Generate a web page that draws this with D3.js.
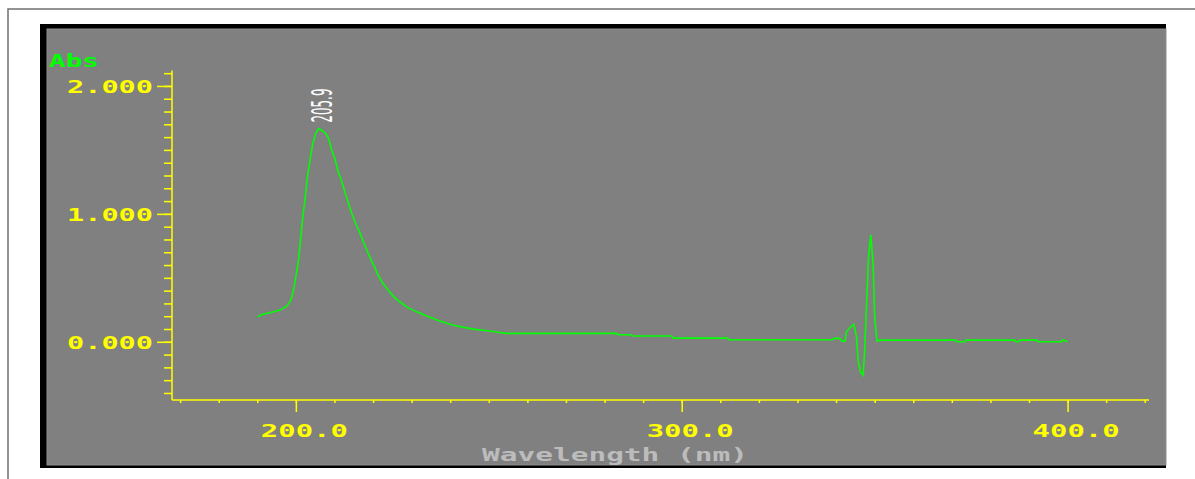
<!DOCTYPE html>
<html>
<head>
<meta charset="utf-8">
<script src="https://cdn.jsdelivr.net/npm/d3@7"></script>
<style>
  body { margin: 0; background: #fff; }
  svg { display: block; }
</style>
</head>
<body>
<div id="vis"></div>
<script>
// ************************** DATA **************************//

// wavelength (nm)
var wavelength = [190, 191.2, 193.3, 195.9, 197.7, 198.7, 199.4, 200.0, 200.7, 201.2,
  201.8, 202.4, 203.0, 203.8, 204.4, 205.2, 205.9, 206.7, 207.7, 208.5,
  209.3, 210.1, 211.0, 211.8, 212.7, 213.5, 214.5, 215.5, 216.5, 217.4,
  218.5, 219.5, 220.5, 221.3, 222.6, 223.9, 225.2, 226.9, 228.7, 231.3,
  233.9, 237.3, 240.8, 245.9, 250.3, 252.8, 254.6, 283.1, 283.5, 286.8,
  287.2, 297.4, 297.8, 311.9, 312.3, 339.1, 339.4, 340.9, 341.5, 342.3,
  342.7, 343.8, 344.6, 345.3, 345.7, 346.3, 347.0, 347.4, 347.9, 348.4,
  349.0, 349.6, 350.0, 350.6, 351.3, 371.0, 371.3, 373.3, 373.6, 386.3,
  386.6, 387.3, 387.6, 392.0, 392.3, 398.4, 398.7, 399.3, 400.0]

// absorbance
var absorbance = [0.195, 0.214, 0.227, 0.248, 0.281, 0.326, 0.404, 0.508, 0.638, 0.795,
  0.977, 1.120, 1.289, 1.445, 1.550, 1.633, 1.667, 1.654, 1.628, 1.589,
  1.498, 1.433, 1.328, 1.263, 1.172, 1.094, 1.003, 0.925, 0.859, 0.790,
  0.710, 0.640, 0.580, 0.521, 0.456, 0.404, 0.357, 0.313, 0.273, 0.234,
  0.201, 0.162, 0.130, 0.099, 0.084, 0.073, 0.066, 0.066, 0.055, 0.055,
  0.045, 0.045, 0.029, 0.029, 0.016, 0.016, 0.027, 0.027, 0.005, 0.005,
  0.078, 0.117, 0.136, 0.039, -0.143, -0.234, -0.260, -0.078, 0.287, 0.651,
  0.834, 0.612, 0.195, 0.005, 0.013, 0.013, 0.000, 0.000, 0.013, 0.013,
  0.000, 0.000, 0.013, 0.013, 0.000, 0.000, 0.016, 0.010, 0.000]

var xMajorTicks = [200, 300, 400]
var yMajorTicks = [0, 1, 2]
var peakLabels = [205.9]
var xTitle = "Wavelength (nm)"
var yTitle = "Abs"

var data = wavelength.map((w, i) => ({w: w, a: absorbance[i]}))

// ************************** SCALES **************************//

var width = 1195, height = 479

var x = d3.scaleLinear().domain([167.9, 421.1]).range([172, 1149])
var y = d3.scaleLinear().domain([-0.455, 2.12]).range([400, 70.6])

var xMinor = d3.range(170, 421, 10)
var yMinor = d3.range(-4, 22).map(d => d / 10)

var pixFont = "'DejaVu Sans Mono', monospace"

var svg = d3.select("#vis").append("svg")
  .attr("width", width)
  .attr("height", height)

// outer frame
svg.append("rect")
  .attr("x", 8).attr("y", 9)
  .attr("width", 1200).attr("height", 500)
  .attr("fill", "none")
  .attr("stroke", "#707070")
  .attr("stroke-width", 1.5)

// instrument panel
svg.append("rect")
  .attr("x", 40).attr("y", 24)
  .attr("width", 1126).attr("height", 444)
  .attr("fill", "#000")
svg.append("rect")
  .attr("x", 47).attr("y", 29)
  .attr("width", 1119).attr("height", 436)
  .attr("fill", "#808080")
  .attr("stroke", "#8e8e8e")
  .attr("stroke-width", 1)

// ************************** AXES **************************//

var yellow = "#ffff00"

function styleAxis(g) {
  g.select(".domain").remove()
  g.selectAll(".tick line").attr("stroke", yellow).attr("stroke-width", 1.5)
}

svg.append("g")
  .attr("transform", "translate(172,0)")
  .call(d3.axisLeft(y).tickValues(yMinor).tickSize(8).tickFormat(""))
  .call(styleAxis)

svg.append("g")
  .attr("transform", "translate(172,0)")
  .call(d3.axisLeft(y).tickValues(yMajorTicks).tickSize(15).tickPadding(4).tickFormat(d3.format(".3f")))
  .call(styleAxis)
  .call(g => g.selectAll(".tick text")
    .attr("fill", yellow)
    .attr("font-family", pixFont)
    .attr("font-weight", "bold")
    .attr("font-size", 18)
    .attr("dy", "0.36em")
    .attr("textLength", 86)
    .attr("lengthAdjust", "spacingAndGlyphs"))

svg.append("g")
  .attr("transform", "translate(0,400)")
  .call(d3.axisBottom(x).tickValues(xMinor).tickSize(3).tickFormat(""))
  .call(styleAxis)

svg.append("g")
  .attr("transform", "translate(0,400)")
  .call(d3.axisBottom(x).tickValues(xMajorTicks).tickSize(12).tickFormat(d3.format(".1f")))
  .call(styleAxis)
  .call(g => g.selectAll(".tick text")
    .attr("fill", yellow)
    .attr("font-family", pixFont)
    .attr("font-weight", "bold")
    .attr("font-size", 18)
    .attr("x", 8)
    .attr("y", 37)
    .attr("dy", 0)
    .attr("textLength", 87)
    .attr("lengthAdjust", "spacingAndGlyphs"))

// axis lines
svg.append("line")
  .attr("x1", x.range()[0]).attr("x2", x.range()[0])
  .attr("y1", y.range()[1]).attr("y2", y.range()[0])
  .attr("stroke", yellow).attr("stroke-width", 1.5)
svg.append("line")
  .attr("x1", x.range()[0]).attr("x2", x.range()[1])
  .attr("y1", y.range()[0]).attr("y2", y.range()[0])
  .attr("stroke", yellow).attr("stroke-width", 1.5)

// titles
svg.append("text")
  .attr("x", 49).attr("y", 67)
  .attr("fill", "#00ff00")
  .attr("font-family", pixFont)
  .attr("font-weight", "bold")
  .attr("font-size", 18)
  .attr("textLength", 50)
  .attr("lengthAdjust", "spacingAndGlyphs")
  .text(yTitle)

svg.append("text")
  .attr("x", 482).attr("y", 460.5)
  .attr("fill", "#bcbcbc")
  .attr("font-family", pixFont)
  .attr("font-weight", "bold")
  .attr("font-size", 18)
  .attr("textLength", 266)
  .attr("lengthAdjust", "spacingAndGlyphs")
  .text(xTitle)

// ************************** TRACE **************************//

var line = d3.line()
  .x(d => x(d.w))
  .y(d => y(d.a))

svg.append("path")
  .datum(data)
  .attr("d", line)
  .attr("fill", "none")
  .attr("stroke", "#00ff00")
  .attr("stroke-width", 1.6)
  .attr("stroke-linejoin", "miter")

// peak label
peakLabels.forEach(p => {
  var pk = data.find(d => d.w === p)
  svg.append("text")
    .attr("transform", `translate(${x(p) + 13},${y(pk.a) - 6}) rotate(-90)`)
    .attr("fill", "#ffffff")
    .attr("font-family", "'DejaVu Sans', sans-serif")
    .attr("font-size", 29)
    .attr("textLength", 34)
    .attr("lengthAdjust", "spacingAndGlyphs")
    .text(d3.format(".1f")(p))
})
</script>
</body>
</html>
